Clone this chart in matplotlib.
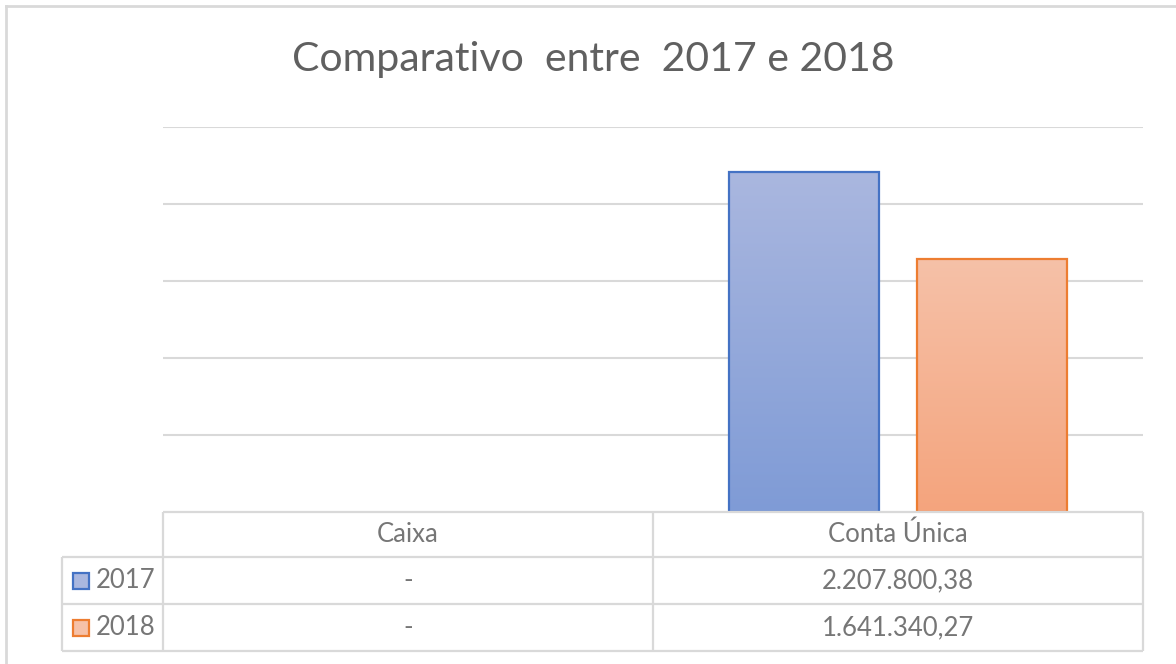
import numpy as np
import matplotlib
matplotlib.use("Agg")
import matplotlib.pyplot as plt
from matplotlib.colors import LinearSegmentedColormap

plt.rcParams['font.family'] = ['Lato', 'DejaVu Sans']

# dados
categorias = ["Caixa", "Conta Única"]
anos = ["2017", "2018"]
valores_2017 = [0, 2207800.38]
valores_2018 = [0, 1641340.27]

titulo = "Comparativo  entre  2017 e 2018"

# cores (estilo Excel)
cor_borda = ["#4472c4", "#ed7d31"]
grad_topo = ["#aab7df", "#f6c1a8"]
grad_base = ["#7f9bd6", "#f4a47d"]
cor_grade = "#d9d9d9"
cor_texto = "#606060"
cor_tabela = "#767676"

W, H = 1176, 664
fig = plt.figure(figsize=(W / 100, H / 100), dpi=100)

# eixo principal (área do gráfico)
x0, x1, ytop, ybase = 163, 1143, 127, 512
ax = fig.add_axes([x0 / W, 1 - ybase / H, (x1 - x0) / W, (ybase - ytop) / H])
for s in ax.spines.values():
    s.set_visible(False)
ax.set_xticks([])
ax.set_yticks(np.arange(500000, 2500001, 500000))
ax.tick_params(left=False, labelleft=False)
ax.grid(axis="y", color=cor_grade, lw=1.5)
ax.set_axisbelow(True)

largura = 0.306
desloc = 0.192
x = np.arange(len(categorias))
series = [valores_2017, valores_2018]
for i, vals in enumerate(series):
    pos = x + (-desloc if i == 0 else desloc)
    barras = ax.bar(pos, vals, largura, facecolor="none",
                    edgecolor=cor_borda[i], lw=1.6, zorder=3)
    cmap = LinearSegmentedColormap.from_list("g%d" % i, [grad_base[i], grad_topo[i]])
    grad = np.linspace(0, 1, 256).reshape(-1, 1)
    for b in barras:
        if b.get_height() <= 0:
            b.set_visible(False)
            continue
        im = ax.imshow(grad, cmap=cmap, aspect="auto", origin="lower",
                       extent=[b.get_x(), b.get_x() + b.get_width(), 0, b.get_height()],
                       zorder=2)
        im.set_clip_path(b)
ax.set_xlim(-0.5, len(categorias) - 0.5)
ax.set_ylim(0, 2500000)

# camada em pixels para título, tabela e moldura
ov = fig.add_axes([0, 0, 1, 1], zorder=5)
ov.set_xlim(0, W)
ov.set_ylim(H, 0)
ov.axis("off")
ov.patch.set_alpha(0)

ov.text(593, 60, titulo, ha="center", va="center", fontsize=29.5, color=cor_texto)

# moldura externa
ov.plot([6, 6], [6, H], color=cor_grade, lw=2)
ov.plot([6, W], [6, 6], color=cor_grade, lw=2)

# tabela de dados
col_x = [163, 653, 1143]
linhas_y = [512, 557, 604, 651]
lab_x = 62
kw = dict(color=cor_grade, lw=1.6, solid_capstyle="butt")
ov.plot([col_x[0], col_x[-1]], [linhas_y[0]] * 2, **kw)
for yy in linhas_y[1:]:
    ov.plot([lab_x, col_x[-1]], [yy] * 2, **kw)
for xx in col_x:
    ov.plot([xx, xx], [linhas_y[0], linhas_y[-1]], **kw)
ov.plot([lab_x, lab_x], [linhas_y[1], linhas_y[-1]], **kw)


def formata(v):
    if v == 0:
        return "-"
    s = "{:,.2f}".format(v)
    return s.replace(",", "X").replace(".", ",").replace("X", ".")


fs = 18.5
for j, cat in enumerate(categorias):
    cx = (col_x[j] + col_x[j + 1]) / 2
    ov.text(cx, (linhas_y[0] + linhas_y[1]) / 2, cat, ha="center", va="center",
            fontsize=fs, color=cor_tabela)
    for i, vals in enumerate(series):
        cy = (linhas_y[i + 1] + linhas_y[i + 2]) / 2
        ov.text(cx, cy, formata(vals[j]), ha="center", va="center",
                fontsize=fs, color=cor_tabela)

for i, ano in enumerate(anos):
    cy = (linhas_y[i + 1] + linhas_y[i + 2]) / 2
    ov.add_patch(plt.Rectangle((73, cy - 8), 16, 16, facecolor=grad_topo[i],
                               edgecolor=cor_borda[i], lw=1.6))
    ov.text(96, cy, ano, ha="left", va="center", fontsize=fs, color=cor_tabela)

fig.savefig("out.png", dpi=100)
